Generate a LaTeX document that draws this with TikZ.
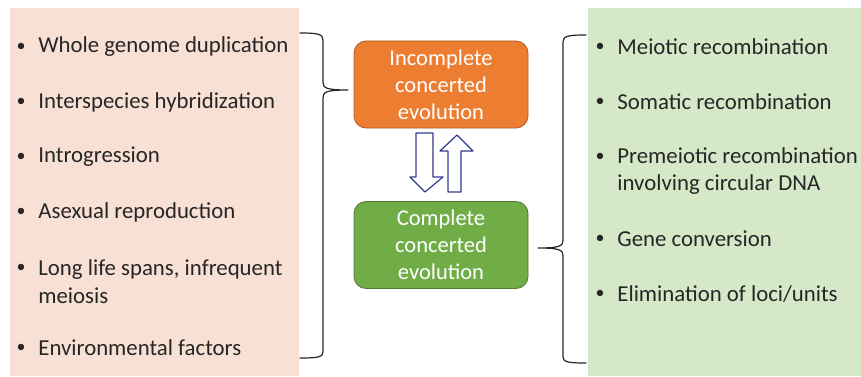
\documentclass[tikz,border=0pt]{standalone}
\usepackage{fontspec}
\setmainfont{Carlito}
\usepackage{tikz}
\usepackage{xcolor}

\definecolor{panelpink}{HTML}{F8E0D5}
\definecolor{panelgreen}{HTML}{D5E8C8}
\definecolor{boxorange}{HTML}{ED7D31}
\definecolor{boxgreen}{HTML}{70AD47}
\definecolor{txtgray}{HTML}{262626}
\definecolor{arrowblue}{HTML}{2F3A8F}

\begin{document}
\begin{tikzpicture}[y=-1pt,x=1pt,line width=0.8pt,line cap=round,line join=round,
  item/.style={anchor=west,inner sep=0pt,text=txtgray,align=left,font=\fontsize{22.8}{27.5}\selectfont},
  dot/.style={inner sep=0pt,text=txtgray,font=\fontsize{18}{20}\selectfont},
  stage/.style={rounded corners=12pt,minimum width=174pt,minimum height=87pt,align=center,
    text=white,line width=0.8pt,font=\fontsize{22.5}{27}\selectfont},
  brace/.style={line width=1.2pt,draw=black!85}]
\useasboundingbox (0,0) rectangle (861,377);

% panels
\fill[panelpink] (10,8) rectangle (299,376);
\fill[panelgreen] (588,8) rectangle (861,376);

% left list
\foreach \y/\t [count=\i] in {47/Whole genome duplication,
    102/Interspecies hybridization,
    157/Introgression,
    212/Asexual reproduction,
    348/Environmental factors}{
  \node[dot] (lb\i) at (21,\y) {\textbullet};
  \node[item] (lt\i) at (38,\y) {\t};
}
\node[dot] (lb6) at (21,268) {\textbullet};
\node[item] (lt6) at (38,281.5) {Long life spans, infrequent\\meiosis};

% right list
\foreach \y/\t [count=\i] in {47/Meiotic recombination,
    102/Somatic recombination,
    239/Gene conversion,
    294/{Elimination of loci/units}}{
  \node[dot] (rb\i) at (600,\y) {\textbullet};
  \node[item] (rt\i) at (617,\y) {\t};
}
\node[dot] (rb5) at (600,157) {\textbullet};
\node[item] (rt5) at (617,171) {Premeiotic recombination\\involving circular DNA};

% the two stages
\node[stage,fill=boxorange,draw=boxorange!75!black] (incomplete) at (441,84.5) {Incomplete\\concerted\\evolution};
\node[stage,fill=boxgreen,draw=boxgreen!70!black] (complete) at (441,245) {Complete\\concerted\\evolution};

% block arrows
\draw[arrowblue,fill=white,line width=1.2pt] (416,133) -- (433,133) -- (433,177) -- (443,177)
  -- (425,192) -- (410,177) -- (416,177) -- cycle;
\draw[arrowblue,fill=white,line width=1.2pt] (448,192) -- (461,192) -- (461,151) -- (473,151)
  -- (457,135) -- (440,151) -- (448,151) -- cycle;

% braces
\coordinate (ltip) at (348,90);
\coordinate (rtip) at (538,248);
\draw[brace] (300,33) .. controls (318,33) and (323,34) .. (323,40) -- (323,82)
  .. controls (323,88) and (326,90) .. (ltip)
  .. controls (326,90) and (323,92) .. (323,98) -- (323,352)
  .. controls (323,357) and (318,358) .. (300,358);
\draw[brace] (586,35) .. controls (568,35) and (563,36) .. (563,42) -- (563,240)
  .. controls (563,246) and (560,248) .. (rtip)
  .. controls (560,248) and (563,250) .. (563,256) -- (563,357)
  .. controls (563,362) and (568,363) .. (586,363);

\end{tikzpicture}
\end{document}
